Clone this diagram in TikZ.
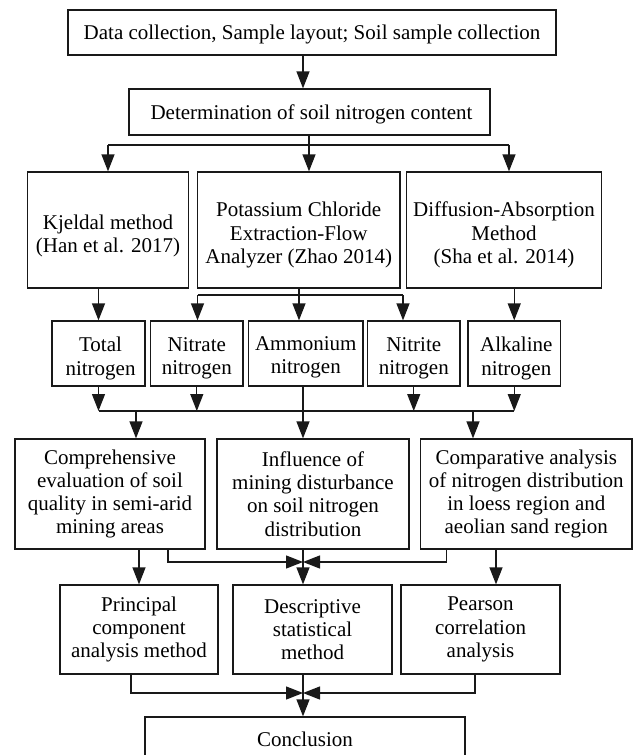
\documentclass[tikz,border=0pt]{standalone}
\usepackage{fontspec}
\setmainfont{Liberation Serif}
\usetikzlibrary{arrows.meta}
\tikzset{
  box/.style={draw=black!90, line width=1.3pt, inner sep=0pt, align=center,
    font=\fontsize{21}{23.3}\selectfont},
  txt/.style={inner sep=0pt, align=center, font=\fontsize{21}{23.3}\selectfont},
  ln/.style={draw=black!90, line width=1.3pt},
  arr/.style={ln, -{Triangle[width=13pt,length=17pt]}},
}
\begin{document}
\begin{tikzpicture}[x=1pt,y=-1pt]
\clip (0,0) rectangle (638,755);
\fill[white] (0,0) rectangle (638,755);
% row 1-2
\node[box, minimum width=488, minimum height=45] (b1) at (312,32.5) {};
\node[txt] (b1t) at ([yshift=-1.5pt]b1.center) {Data collection, Sample layout; Soil sample collection};
\node[box, minimum width=361, minimum height=46] (b2) at (309.5,112) {};
\node[txt] (b2t) at ([xshift=2pt,yshift=-2.5pt]b2.center) {Determination of soil nitrogen content};
% row 3
\node[box, minimum width=161, minimum height=116] (k) at (108,230) {};
\node[txt] (kt) at ([yshift=-6pt]k.center) {Kjeldal method\\(Han et al. 2017)};
\node[box, minimum width=202.5, minimum height=116] (p) at (298.75,230) {};
\node[txt] (pt) at ([yshift=-5pt]p.center) {Potassium Chloride\\Extraction-Flow\\Analyzer (Zhao 2014)};
\node[box, minimum width=195, minimum height=116] (d) at (504,230) {};
\node[txt] (dt) at ([yshift=-5pt]d.center) {Diffusion-Absorption\\Method\\(Sha et al. 2014)};
% row 4
\node[box, minimum width=93, minimum height=65] (tn) at (98.5,353.5) {};
\node[txt] (tnt) at ([xshift=2pt,yshift=-5pt]tn.center) {Total\\nitrogen};
\node[box, minimum width=92.4, minimum height=65] (nan) at (196.8,353.5) {};
\node[txt] (nant) at ([yshift=-5pt]nan.center) {Nitrate\\nitrogen};
\node[box, minimum width=114.4, minimum height=65] (amn) at (305.8,353.5) {};
\node[txt] (amnt) at ([yshift=-4pt]amn.center) {Ammonium\\nitrogen};
\node[box, minimum width=92.5, minimum height=65] (nin) at (413.75,353.5) {};
\node[txt] (nint) at ([yshift=-5pt]nin.center) {Nitrite\\nitrogen};
\node[box, minimum width=92.5, minimum height=65] (aln) at (514.25,353.5) {};
\node[txt] (alnt) at ([xshift=2pt,yshift=-5pt]aln.center) {Alkaline\\nitrogen};
% row 5
\node[box, minimum width=190, minimum height=110] (c1) at (110,494) {Comprehensive\\evaluation of soil\\quality in semi-arid\\mining areas};
\node[box, minimum width=192, minimum height=110] (c2) at (313,494) {Influence of\\mining disturbance\\on soil nitrogen\\distribution};
\node[box, minimum width=211.4, minimum height=110] (c3) at (526.3,494) {Comparative analysis\\of nitrogen distribution\\in loess region and\\aeolian sand region};
% row 6
\node[box, minimum width=158, minimum height=89] (r1) at (139,629.5) {Principal\\component\\analysis method};
\node[box, minimum width=159, minimum height=89] (r2) at (312.5,629.5) {Descriptive\\statistical\\method};
\node[box, minimum width=159, minimum height=89] (r3) at (480.5,629.5) {Pearson\\correlation\\analysis};
% conclusion
\node[box, minimum width=320, minimum height=45] (con) at (305,739.5) {Conclusion};

% coordinates
\coordinate (x1) at (303,0);
\coordinate (bl) at (108,145);
\coordinate (bm) at (309,145);
\coordinate (bR) at (509,145);
\coordinate (pm) at (299,295);
\coordinate (pl) at (197.5,295);
\coordinate (pr) at (403,295);
\coordinate (h3) at (0,411);
\coordinate (a5l) at (136,411);
\coordinate (a5r) at (473,411);
\coordinate (c1o) at (168,0);
\coordinate (c3o) at (446.5,0);
\coordinate (r3o) at (496,0);
\coordinate (m4) at (303,562);
\coordinate (r1o) at (131,0);
\coordinate (r3p) at (475,0);
\coordinate (m5) at (303,693);

% connectors
\draw[arr] (b1.south -| x1) -- (b2.north -| x1);
\draw[ln] (b2.south -| bm) -- (bm);
\draw[ln] (bl) -- (bR);
\draw[arr] (bl) -- (k.north -| bl);
\draw[arr] (bm) -- (p.north -| bm);
\draw[arr] (bR) -- (d.north -| bR);

\draw[arr] (k.south -| tn.north) -- (tn.north);
\draw[ln] (p.south -| pm) -- (pm);
\draw[ln] (pl) -- (pr);
\draw[arr] (pl) -- (nan.north -| pl);
\draw[arr] (pm) -- (amn.north -| pm);
\draw[arr] (pr) -- (nin.north -| pr);
\draw[arr] (d.south -| aln.north) -- (aln.north);

\draw[arr] (tn.south) -- (tn.south |- h3);
\draw[arr] (nan.south) -- (nan.south |- h3);
\draw[arr] (nin.south) -- (nin.south |- h3);
\draw[arr] (aln.south) -- (aln.south |- h3);
\draw[ln] (tn.south |- h3) -- (aln.south |- h3);
\draw[arr] (amn.south -| x1) -- (c2.north -| x1);
\draw[arr] (a5l) -- (c1.north -| a5l);
\draw[arr] (a5r) -- (c3.north -| a5r);

\draw[arr] (c1.south -| r1.north) -- (r1.north);
\draw[arr] (c1.south -| c1o) |- (m4);
\draw[arr] (c3.south -| c3o) |- (m4);
\draw[arr] (c2.south -| x1) -- (r2.north -| x1);
\draw[arr] (c3.south -| r3o) -- (r3.north -| r3o);

\draw[arr] (r1.south -| r1o) |- (m5);
\draw[arr] (r3.south -| r3p) |- (m5);
\draw[arr] (r2.south -| x1) -- (con.north -| x1);
\end{tikzpicture}
\end{document}
